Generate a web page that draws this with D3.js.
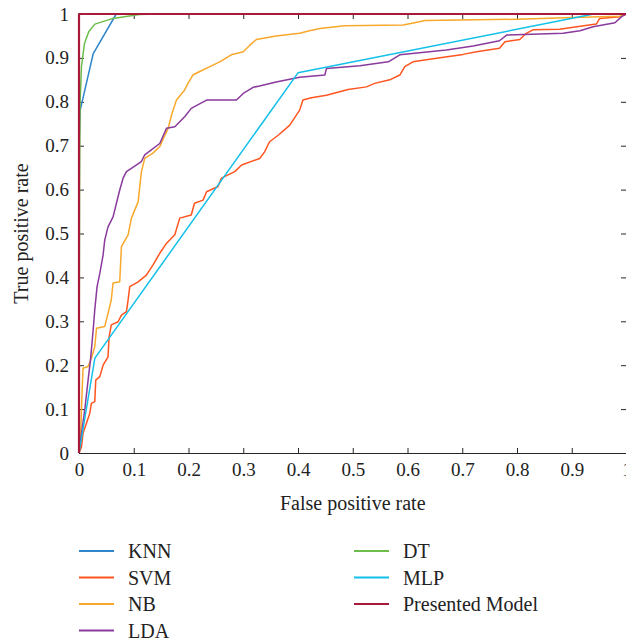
<!DOCTYPE html>
<html>
<head>
<meta charset="utf-8">
<script src="https://cdn.jsdelivr.net/npm/d3@7"></script>
<style>
    body { margin: 0; background: #fff; }
    svg { display: block; font-family: "Liberation Serif", "DejaVu Serif", serif; }
    .axis text { font-size: 19px; fill: #222; font-family: "Liberation Serif", serif; }
    .axis path, .axis line { stroke: #262626; }
</style>
</head>
<body>
<svg width="626" height="644"></svg>
<script>
    // curvas ROC (fpr, tpr)
    var knn = [[0, 0], [0, 0.7], [0.002, 0.78], [0.026, 0.91], [0.068, 1], [1, 1]];
    var dt = [[0, 0], [0.001, 0.6], [0.002, 0.8], [0.0045, 0.88], [0.01, 0.933], [0.018, 0.96],
        [0.029, 0.977], [0.062, 0.99], [0.11, 0.999], [0.14, 1], [1, 1]];
    var mlp = [[0, 0], [0.029, 0.216], [0.4, 0.866], [0.94, 1], [1, 1]];
    var lda = [[0, 0], [0.0045, 0.045], [0.0105, 0.098], [0.0166, 0.166], [0.021, 0.212],
        [0.0257, 0.278], [0.0288, 0.326], [0.033, 0.379], [0.038, 0.409], [0.044, 0.451],
        [0.047, 0.485], [0.053, 0.515], [0.0622, 0.538], [0.0744, 0.599], [0.0805, 0.626],
        [0.0867, 0.641], [0.114, 0.664], [0.12, 0.679], [0.1475, 0.705], [0.16, 0.74],
        [0.175, 0.743], [0.193, 0.766], [0.205, 0.785], [0.233, 0.804], [0.2876, 0.804],
        [0.30, 0.819], [0.318, 0.833], [0.33, 0.836], [0.36, 0.845], [0.403, 0.856],
        [0.449, 0.861], [0.452, 0.876], [0.513, 0.882], [0.565, 0.891], [0.586, 0.907],
        [0.671, 0.918], [0.72, 0.927], [0.768, 0.939], [0.781, 0.952], [0.884, 0.956],
        [0.915, 0.962], [0.939, 0.971], [0.979, 0.98], [0.991, 0.994], [1, 1]];
    var nb = [[0, 0], [0.0026, 0.03], [0.0045, 0.098], [0.006, 0.151], [0.0074, 0.193],
        [0.0166, 0.197], [0.0227, 0.216], [0.0288, 0.242], [0.032, 0.284], [0.047, 0.288],
        [0.053, 0.318], [0.059, 0.349], [0.0622, 0.387], [0.0744, 0.39], [0.0775, 0.47],
        [0.0897, 0.497], [0.0957, 0.535], [0.108, 0.572], [0.114, 0.641], [0.12, 0.671],
        [0.135, 0.683], [0.1475, 0.698], [0.153, 0.713], [0.163, 0.74], [0.169, 0.77],
        [0.178, 0.804], [0.193, 0.827], [0.199, 0.842], [0.208, 0.861], [0.2205, 0.869],
        [0.239, 0.88], [0.257, 0.891], [0.278, 0.907], [0.30, 0.914], [0.312, 0.929],
        [0.324, 0.942], [0.36, 0.95], [0.403, 0.956], [0.421, 0.962], [0.44, 0.967],
        [0.485, 0.973], [0.592, 0.975], [0.613, 0.98], [0.632, 0.985], [0.80, 0.988],
        [0.902, 0.992], [0.988, 0.995], [1, 1]];
    var svm = [[0, 0], [0.0045, 0.014], [0.0074, 0.045], [0.0136, 0.068], [0.0196, 0.09],
        [0.0227, 0.113], [0.0288, 0.117], [0.0306, 0.166], [0.038, 0.174], [0.044, 0.2],
        [0.053, 0.219], [0.055, 0.265], [0.059, 0.292], [0.0714, 0.299], [0.0775, 0.314],
        [0.0867, 0.322], [0.0897, 0.349], [0.0927, 0.379], [0.108, 0.39], [0.123, 0.405],
        [0.135, 0.428], [0.1475, 0.455], [0.16, 0.478], [0.175, 0.497], [0.184, 0.535],
        [0.205, 0.542], [0.211, 0.569], [0.2266, 0.576], [0.233, 0.595], [0.254, 0.607],
        [0.26, 0.626], [0.2845, 0.641], [0.297, 0.656], [0.33, 0.671], [0.339, 0.686],
        [0.348, 0.709], [0.365, 0.725], [0.385, 0.747], [0.403, 0.781], [0.409, 0.804],
        [0.4245, 0.809], [0.452, 0.815], [0.4915, 0.828], [0.525, 0.834], [0.54, 0.842],
        [0.5676, 0.85], [0.586, 0.861], [0.595, 0.88], [0.61, 0.891], [0.653, 0.899],
        [0.7015, 0.908], [0.726, 0.914], [0.768, 0.922], [0.778, 0.937], [0.805, 0.942],
        [0.817, 0.956], [0.829, 0.964], [0.878, 0.965], [0.909, 0.971], [0.945, 0.977],
        [0.951, 0.99], [0.988, 0.994], [1, 1]];
    var presented = [[0, 0], [0, 1], [1, 1]];

    var nomes = ["KNN", "SVM", "NB", "LDA", "DT", "MLP", "Presented Model"];
    var cores = ["#2f86cc", "#ff5520", "#f8a82a", "#8a3a9c", "#6cbd4c", "#12c0ea", "#a8193a"];
    var curvas = [knn, svm, nb, lda, dt, mlp, presented];
    var xTicks = [0, 0.1, 0.2, 0.3, 0.4, 0.5, 0.6, 0.7, 0.8, 0.9, 1];
    var yTicks = [0, 0.1, 0.2, 0.3, 0.4, 0.5, 0.6, 0.7, 0.8, 0.9, 1];

    var svg = d3.select("svg");
    var margem = { left: 79, right: 626.5, top: 14, bottom: 453 };

    var x = d3.scaleLinear().domain([0, 1]).range([margem.left, margem.right]);
    var y = d3.scaleLinear().domain([0, 1]).range([margem.bottom, margem.top]);

    var fmt = function (d) { return d === 0 ? "0" : d === 1 ? "1" : d3.format(".1f")(d); };

    svg.append("g").attr("class", "axis")
        .attr("transform", "translate(0," + margem.bottom + ")")
        .call(d3.axisBottom(x).tickValues(xTicks).tickFormat(fmt).tickSizeInner(-5).tickSizeOuter(0).tickPadding(10));
    svg.append("g").attr("class", "axis")
        .attr("transform", "translate(" + margem.left + ",0)")
        .call(d3.axisLeft(y).tickValues(yTicks).tickFormat(fmt).tickSizeInner(-5).tickSizeOuter(0).tickPadding(10));
    svg.append("g").attr("class", "axis")
        .attr("transform", "translate(0," + margem.top + ")")
        .call(d3.axisTop(x).tickValues(xTicks).tickFormat("").tickSizeInner(-5).tickSizeOuter(0));
    svg.append("g").attr("class", "axis")
        .attr("transform", "translate(" + (margem.right - 0.5) + ",0)")
        .call(d3.axisRight(y).tickValues(yTicks).tickFormat("").tickSizeInner(-5).tickSizeOuter(0));

    var linha = d3.line()
        .x(function (d) { return x(d[0]); })
        .y(function (d) { return y(d[1]); });

    curvas.forEach(function (c, i) {
        svg.append("path")
            .datum(c)
            .attr("d", linha)
            .attr("fill", "none")
            .attr("stroke", cores[i])
            .attr("stroke-width", i === 6 ? 2.2 : 1.5)
            .attr("stroke-linejoin", "round");
    });

    svg.append("text")
        .attr("x", (margem.left + margem.right) / 2)
        .attr("y", 510)
        .attr("text-anchor", "middle")
        .style("font-size", "20px")
        .attr("fill", "#222")
        .text("False positive rate");

    svg.append("text")
        .attr("transform", "translate(28," + ((margem.top + margem.bottom) / 2) + ") rotate(-90)")
        .attr("text-anchor", "middle")
        .style("font-size", "20px")
        .attr("fill", "#222")
        .text("True positive rate");

    // legenda em duas colunas
    var leg = svg.append("g");
    nomes.forEach(function (n, i) {
        var col = i < 4 ? 0 : 1;
        var row = i < 4 ? i : i - 4;
        var lx = col === 0 ? 79 : 354;
        var ly = 551 + row * 26.5;
        leg.append("line")
            .attr("x1", lx).attr("x2", lx + 35)
            .attr("y1", ly).attr("y2", ly)
            .attr("stroke", cores[i]).attr("stroke-width", 1.8);
        leg.append("text")
            .attr("x", lx + 49).attr("y", ly)
            .attr("dy", "0.35em")
            .style("font-size", "20px")
            .attr("fill", "#222")
            .text(n);
    });
</script>
</body>
</html>
